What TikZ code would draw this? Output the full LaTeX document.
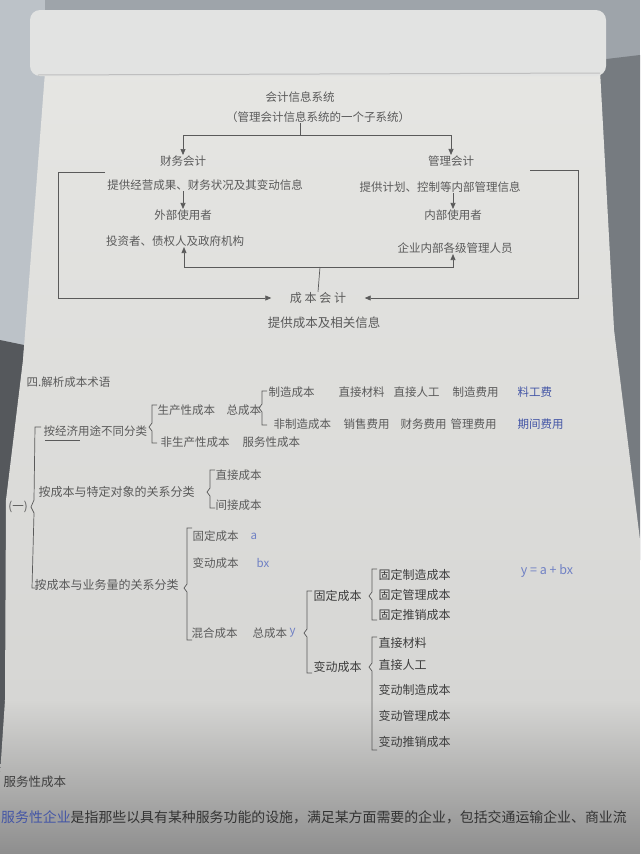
\documentclass[tikz,border=0pt]{standalone}
\usepackage{fontspec}
\newfontfamily\cjk{Noto Sans CJK SC}
\usetikzlibrary{arrows.meta}
\definecolor{ink}{HTML}{5A5A5A}
\definecolor{inkd}{HTML}{3E3E3E}
\definecolor{blu}{HTML}{4456A6}
\definecolor{blul}{HTML}{6F80C4}
\definecolor{bgc}{HTML}{9EA4AA}
\definecolor{deskl}{HTML}{BCC2C8}
\definecolor{darks}{HTML}{55585C}
\definecolor{rights}{HTML}{767B80}
\definecolor{paperT}{HTML}{E6E6E3}
\definecolor{paperM}{HTML}{D6D6D4}
\definecolor{paperB}{HTML}{8E8E8E}
\definecolor{rollc}{HTML}{E2E3E2}
\newcommand\brk[4]{\draw[ln] ({#1+5},#2) -- (#1,#2) -- (#1,{#4-4}) -- ({#1-3},#4) -- (#1,{#4+4}) -- (#1,#3) -- ({#1+5},#3);}
\begin{document}
\begin{tikzpicture}[x=1pt,y=-1pt,
  t/.style={font=\cjk\fontsize{11.5}{13}\selectfont, text=ink, inner sep=0.5pt},
  tl/.style={t, anchor=west},
  td/.style={tl, text=inkd, font=\cjk\fontsize{12}{14}\selectfont},
  bt/.style={tl, text=blu},
  ln/.style={draw=ink, line width=0.7pt},
  arr/.style={ln, -{Triangle[length=6pt,width=5pt]}}]
\useasboundingbox (0,0) rectangle (640,854);
% background and paper
\fill[bgc] (0,0) rectangle (640,854);
\fill[deskl] (0,0) rectangle (45,360);
\fill[rights] (598,60) -- (640,55) -- (640,560) -- (614,330) -- cycle;
\fill[darks] (0,340) -- (24,345) -- (8,720) -- (0,780) -- cycle;
\begin{scope}
\clip (45,72) -- (600,70) -- (614,330) -- (640,540) -- (640,854) -- (0,854) -- (0,775) -- (5,700) -- (6,500) -- (23,360) -- cycle;
\shade[top color=paperT, bottom color=paperM] (0,60) rectangle (640,700);
\shade[top color=paperM, bottom color=paperB] (0,699) rectangle (640,854);
\end{scope}
\fill[rollc, rounded corners=10] (30,10) rectangle (606,76);
\draw[black!25, line width=1pt] (38,75) -- (600,73);
% ---------- top diagram ----------
\node[t] (sys) at (300,97) {会计信息系统};
\node[t] (sub) at (318,117) {（管理会计信息系统的一个子系统）};
\coordinate (j1) at (300,135);
\draw[ln] (j1 |- sub.south) -- (j1);
\node[t] (fin) at (183,161) {财务会计};
\node[t] (mgt) at (451,161) {管理会计};
\draw[arr] (j1) -| (fin.north);
\draw[arr] (j1) -| (mgt.north);
\node[t] (fd) at (205,185) {提供经营成果、财务状况及其变动信息};
\node[t] (md) at (440,187) {提供计划、控制等内部管理信息};
\node[t] (ext) at (183,215) {外部使用者};
\node[t] (intu) at (453,215) {内部使用者};
\draw[arr] (fd.south -| ext) -- (ext.north);
\draw[arr] (md.south -| intu) -- (intu.north);
\node[t] (inv) at (175,241) {投资者、债权人及政府机构};
\node[t] (mgr) at (455,248) {企业内部各级管理人员};
\node[t, font=\cjk\fontsize{12}{14}\selectfont] (cost) at (318,298) {成 本 会 计};
\node[t, font=\cjk\fontsize{12.5}{14}\selectfont] (cd) at (324,323) {提供成本及相关信息};
\coordinate (j2) at (320,267);
\draw[ln] (cost.north) -- (j2);
\draw[arr] (j2) -| ([xshift=9]inv.south);
\draw[arr] (j2) -| ([xshift=-2]mgr.south);
\coordinate (lt) at (105,172);
\coordinate (rt) at (530,170);
\draw[arr] (lt) -- (58,172) |- ([xshift=-18]cost.west);
\draw[arr] (rt) -- (578,170) |- ([xshift=18]cost.east);
% ---------- second part ----------
\node[tl] (h4) at (26,382) {四.解析成本术语};
\node[t] (yi) at (18,507) {(一)};
\draw[ln] (41,427) -- (35,427) -- (34,500) -- (31,507) -- (34,513) -- (32,588) -- (38,588);
% branch 1
\node[tl] (b1) at (43,431) {按经济用途不同分类};
\draw[ln] (45,440) -- (80,440);
\brk{152}{405}{443}{427}
\node[tl] (b1a) at (157,410) {生产性成本};
\node[tl] (b1b) at (160,442) {非生产性成本};
\node[tl] (zc1) at (226,410) {总成本};
\brk{262}{391}{425}{408}
\node[tl] (mfg) at (268,392) {制造成本};
\node[tl] (nmfg) at (273,424) {非制造成本};
\node[tl] (m1) at (338,392) {直接材料};
\node[tl] (m2) at (393,392) {直接人工};
\node[tl] (m3) at (452,392) {制造费用};
\node[bt] (m4) at (517,392) {料工费};
\node[tl] (n1) at (343,424) {销售费用};
\node[tl] (n2) at (400,424) {财务费用};
\node[tl] (n3) at (450,424) {管理费用};
\node[bt] (n4) at (517,424) {期间费用};
\node[tl] (svc) at (242,442) {服务性成本};
% branch 2
\node[tl, font=\cjk\fontsize{12}{14}\selectfont] (b2) at (38,492) {按成本与特定对象的关系分类};
\brk{210}{470}{508}{492}
\node[tl] (dc) at (215,475) {直接成本};
\node[tl] (ic) at (215,505) {间接成本};
% branch 3
\node[tl, font=\cjk\fontsize{12}{14}\selectfont] (b3) at (34,585) {按成本与业务量的关系分类};
\brk{187}{528}{640}{588}
\node[tl] (fc) at (192,536) {固定成本};
\node[bt, text=blul] (fa) at (250,536) {a};
\node[tl] (vc) at (192,563) {变动成本};
\node[bt, text=blul] (vb) at (256,563) {bx};
\node[tl] (mix) at (191,633) {混合成本};
\node[tl] (zc2) at (252,633) {总成本};
\node[bt, text=blul] (yy) at (289,633) {y};
\brk{307}{591}{673}{633}
\node[td] (fc2) at (313,596) {固定成本};
\node[td] (vc2) at (313,667) {变动成本};
\brk{372}{569}{620}{596}
\node[td] (f1) at (378,575) {固定制造成本};
\node[td] (f2) at (378,595) {固定管理成本};
\node[td] (f3) at (378,615) {固定推销成本};
\brk{372}{637}{750}{667}
\node[td] (v1) at (378,643) {直接材料};
\node[td] (v2) at (378,665) {直接人工};
\node[td] (v3) at (378,690) {变动制造成本};
\node[td] (v4) at (378,716) {变动管理成本};
\node[td] (v5) at (378,742) {变动推销成本};
\node[t, text=blul, font=\cjk\fontsize{12.5}{14}\selectfont] (eq) at (547,571) {y = a + bx};
% ---------- bottom ----------
\node[tl, text=inkd, font=\cjk\fontsize{12.5}{14}\selectfont] (st) at (3,782) {服务性成本};
\node[tl, text=black!80, font=\cjk\fontsize{13.9}{16}\selectfont, inner sep=0pt] (para) at (1,817) {\textcolor{blu}{服务性企业}是指那些以具有某种服务功能的设施，满足某方面需要的企业，包括交通运输企业、商业流};
\end{tikzpicture}
\end{document}
